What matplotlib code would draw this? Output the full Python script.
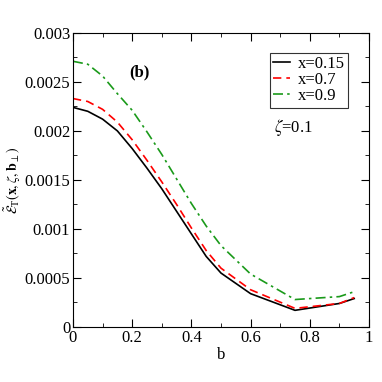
import matplotlib
matplotlib.use('Agg')
import matplotlib.pyplot as plt
from matplotlib.ticker import MultipleLocator

plt.rcParams['font.family'] = 'Liberation Serif'
plt.rcParams['mathtext.fontset'] = 'stix'

# data
b = [0, 0.05, 0.1, 0.15, 0.2, 0.25, 0.3, 0.35, 0.4, 0.45, 0.5, 0.6, 0.75, 0.9, 0.95]
e_x015 = [0.00224, 0.00220, 0.00212, 0.00200, 0.00182, 0.00162, 0.00141, 0.00118,
          0.00095, 0.00072, 0.00055, 0.00034, 0.00017, 0.00024, 0.00029]
e_x07 = [0.00233, 0.00230, 0.00222, 0.00209, 0.00191, 0.00170, 0.00148, 0.00125,
         0.00101, 0.00078, 0.00060, 0.00038, 0.00019, 0.00024, 0.00030]
e_x09 = [0.00271, 0.00268, 0.00256, 0.00238, 0.00221, 0.00199, 0.00176, 0.00151,
         0.00126, 0.00103, 0.00083, 0.00054, 0.00028, 0.00031, 0.00036]

fig = plt.figure(figsize=(3.82, 3.82), dpi=100)
ax = fig.add_axes([0.191, 0.144, 0.775, 0.770])

ax.plot(b, e_x015, color='black', lw=1.2, label='x=0.15')
ax.plot(b, e_x07, color='red', lw=1.2, ls=(0, (5, 3)), label='x=0.7')
ax.plot(b, e_x09, color='#1a9a1a', lw=1.2, ls=(0, (6, 2.5, 1.5, 2.5)), label='x=0.9')

ax.set_xlim(0, 1)
ax.set_ylim(0, 0.003)
ax.xaxis.set_minor_locator(MultipleLocator(0.1))
ax.yaxis.set_minor_locator(MultipleLocator(0.00025))
ax.set_xticks([0, 0.2, 0.4, 0.6, 0.8, 1])
ax.set_xticklabels(['0', '0.2', '0.4', '0.6', '0.8', '1'])
ax.set_yticks([0, 0.0005, 0.001, 0.0015, 0.002, 0.0025, 0.003])
ax.set_yticklabels(['0', '0.0005', '0.001', '0.0015', '0.002', '0.0025', '0.003'])
ax.tick_params(which='both', direction='in', top=True, right=True, labelsize=12, pad=2)
ax.tick_params(which='major', length=6)
ax.tick_params(which='minor', length=3)

ax.set_xlabel('b', fontsize=12, labelpad=1)
ax.set_ylabel(r'$\tilde{\mathcal{E}}_{\mathrm{T}}(\mathbf{x},\zeta,\mathbf{b}_{\perp})$',
              fontsize=10, labelpad=1)

ax.text(0.226, 0.0026, '(b)', fontsize=12, fontweight='bold', family='Liberation Serif',
        ha='center', va='center')
ax.text(0.68, 0.00203, r'$\zeta$=0.1', fontsize=12, ha='left', va='center')

leg = ax.legend(loc='upper right', bbox_to_anchor=(0.928, 0.932), fontsize=12,
                frameon=True, fancybox=False, edgecolor='black', handlelength=1.0,
                handletextpad=0.45, borderpad=0.2, labelspacing=0.0, borderaxespad=0)
leg.get_frame().set_linewidth(0.8)

fig.savefig('out.png', dpi=100)
